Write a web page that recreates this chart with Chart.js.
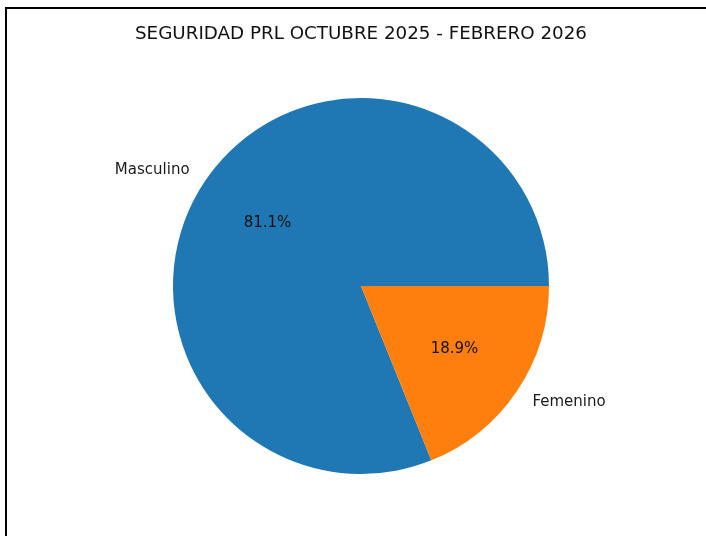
<!DOCTYPE html>
<html>
<head>
<meta charset="utf-8">
<script src="https://cdn.jsdelivr.net/npm/chart.js@4.4.0/dist/chart.umd.min.js"></script>
<style>
  html, body { margin: 0; padding: 0; background: #fff; }
  #wrap { position: relative; width: 706px; height: 536px; }
  #frame { position: absolute; left: 5px; top: 7px; right: -4px; bottom: -4px;
           border-top: 2px solid #000; border-left: 2px solid #000; pointer-events: none; }
  canvas { display: block; }
</style>
</head>
<body>
<div id="wrap">
  <canvas id="c" width="706" height="536"></canvas>
  <div id="frame"></div>
</div>
<script>
const titleText = "SEGURIDAD PRL OCTUBRE 2025 - FEBRERO 2026";
const categories = ["Masculino", "Femenino"];
const values = [81.1, 18.9];
const colors = ["#1f77b4", "#ff7f0e"];

const total = values.reduce((a, b) => a + b, 0);
// matplotlib-style: first wedge starts at 3 o'clock going counter-clockwise.
// Chart.js draws clockwise, so start the first wedge where the last one ends.
const rotationDeg = 90 + 360 * values[values.length - 1] / total;

const labelPlugin = {
  id: 'mplLabels',
  afterDatasetsDraw(chart) {
    const ctx = chart.ctx;
    const meta = chart.getDatasetMeta(0);
    ctx.save();
    meta.data.forEach((arc, i) => {
      const p = arc.getProps(['x', 'y', 'startAngle', 'endAngle', 'outerRadius'], true);
      const mid = (p.startAngle + p.endAngle) / 2;
      const cx = Math.cos(mid), cy = Math.sin(mid);
      // category label at 1.1 r
      const lx = p.x + cx * p.outerRadius * 1.1;
      const ly = p.y + cy * p.outerRadius * 1.1;
      ctx.font = '15px "DejaVu Sans"';
      ctx.fillStyle = '#1a1a1a';
      ctx.textBaseline = 'middle';
      ctx.textAlign = cx >= 0 ? 'left' : 'right';
      ctx.fillText(categories[i], lx, ly);
      // percentage at 0.6 r
      const px = p.x + cx * p.outerRadius * 0.6;
      const py = p.y + cy * p.outerRadius * 0.6;
      ctx.textAlign = 'center';
      ctx.fillStyle = '#111';
      const pct = (values[i] / total * 100).toFixed(1) + '%';
      ctx.fillText(pct, px, py);
    });
    // title
    ctx.font = '18.3px "DejaVu Sans"';
    ctx.fillStyle = '#111';
    ctx.textAlign = 'center';
    ctx.textBaseline = 'middle';
    ctx.fillText(titleText, 361, 34);
    ctx.restore();
  }
};

new Chart(document.getElementById('c'), {
  type: 'pie',
  data: {
    labels: categories,
    datasets: [{
      data: values,
      backgroundColor: colors,
      borderWidth: 0,
      hoverOffset: 0
    }]
  },
  options: {
    responsive: false,
    animation: false,
    rotation: rotationDeg,
    layout: { padding: { top: 98, bottom: 62, left: 116, right: 100 } },
    plugins: {
      legend: { display: false },
      title: { display: false },
      tooltip: { enabled: false }
    },
    events: []
  },
  plugins: [labelPlugin]
});
</script>
</body>
</html>
